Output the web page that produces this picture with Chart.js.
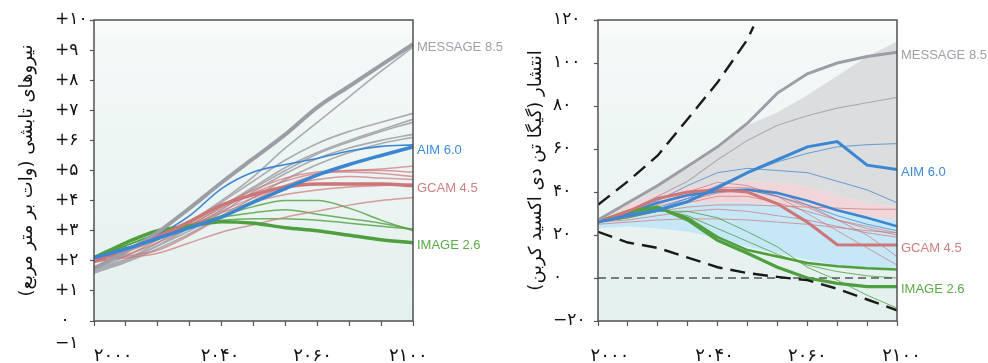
<!DOCTYPE html>
<html lang="fa">
<head>
<meta charset="UTF-8">
<title>نیروهای تابشی و انتشار</title>
<style>
  body { margin: 0; background: #fff; }
  canvas { position: absolute; top: 0; }
</style>
</head>
<body>
<canvas id="forcingChart" width="515" height="363" style="left:0"></canvas>
<canvas id="emissionChart" width="473" height="363" style="left:515px"></canvas>
<script src="https://cdn.jsdelivr.net/npm/chart.js"></script>
<script>
// ---- shared ----
const years = [2000, 2010, 2020, 2030, 2040, 2050, 2060, 2070, 2080, 2090, 2100];
const xTickLabels = ['۲۰۰۰', '۲۰۴۰', '۲۰۶۰', '۲۱۰۰'];
const scenarioNames = ['MESSAGE 8.5', 'AIM 6.0', 'GCAM 4.5', 'IMAGE 2.6'];

// ---- left: radiative forcing (W/m2) ----
const forcingTickValues = [0, 1, 2, 3, 4, 5, 6, 7, 8, 9, 10];
const forcingTickLabels = [' ۰', '+۱', '+۲', '+۳', '+۴', '+۵', '+۶', '+۷', '+۸', '+۹', '+۱۰'];
const forcingBelowLabel = '−۱';

const forcingMessage = [1.75, 2.3, 2.95, 3.75, 4.6, 5.4, 6.2, 7.1, 7.8, 8.5, 9.2];
const forcingGray1 = [1.7, 2.15, 2.7, 3.3, 4.0, 4.8, 5.75, 6.6, 7.45, 8.3, 9.1];
const forcingGray2 = [1.65, 2.05, 2.6, 3.25, 3.95, 4.65, 5.35, 5.9, 6.3, 6.6, 6.9];
const forcingGray3 = [1.6, 2.0, 2.5, 3.15, 3.8, 4.45, 5.1, 5.6, 6.0, 6.35, 6.7];
const forcingGray4 = [1.6, 2.0, 2.5, 3.1, 3.7, 4.4, 5.0, 5.55, 5.95, 6.3, 6.6];
const forcingGray5 = [1.7, 2.05, 2.5, 3.0, 3.6, 4.3, 4.9, 5.4, 5.75, 6.0, 6.2];
const forcingGray6 = [1.6, 1.95, 2.4, 2.9, 3.5, 4.1, 4.7, 5.2, 5.6, 5.9, 6.1];

const forcingAim = [2.1, 2.4, 2.75, 3.1, 3.45, 3.95, 4.4, 4.85, 5.2, 5.5, 5.78];
const forcingBlue1 = [2.1, 2.4, 2.85, 3.5, 4.4, 4.95, 5.2, 5.4, 5.65, 5.8, 5.85];

const forcingGcam = [2.0, 2.35, 2.8, 3.3, 3.85, 4.2, 4.45, 4.55, 4.55, 4.55, 4.5];
const forcingRed1 = [2.0, 2.35, 2.8, 3.3, 3.85, 4.35, 4.75, 4.95, 5.0, 5.05, 5.15];
const forcingRed2 = [2.0, 2.3, 2.75, 3.2, 3.75, 4.25, 4.65, 4.9, 4.95, 4.9, 4.8];
const forcingRed3 = [1.95, 2.2, 2.6, 3.1, 3.65, 4.1, 4.5, 4.7, 4.8, 4.75, 4.7];
const forcingRed4 = [1.95, 2.15, 2.35, 2.85, 3.45, 4.0, 4.5, 4.85, 5.0, 5.0, 4.95];
const forcingRed5 = [2.0, 2.1, 2.25, 2.6, 2.95, 3.2, 3.45, 3.65, 3.85, 4.0, 4.1];
const forcingRed6 = [2.0, 2.3, 2.7, 3.15, 3.6, 3.95, 4.2, 4.35, 4.45, 4.5, 4.55];

const forcingImage = [2.1, 2.6, 3.0, 3.15, 3.3, 3.25, 3.1, 3.0, 2.85, 2.7, 2.6];
const forcingGreen1 = [2.1, 2.5, 2.9, 3.2, 3.5, 3.8, 4.0, 4.0, 3.75, 3.35, 3.0];
const forcingGreen2 = [2.1, 2.5, 2.9, 3.2, 3.45, 3.6, 3.7, 3.55, 3.4, 3.25, 3.05];
const forcingGreen3 = [2.1, 2.5, 2.9, 3.2, 3.35, 3.4, 3.4, 3.35, 3.25, 3.15, 3.05];

// ---- right: CO2 emissions (Gt) ----
const emissionTickValues = [-20, 0, 20, 40, 60, 80, 100, 120];
const emissionTickLabels = ['−۲۰', '۰', '۲۰', '۴۰', '۶۰', '۸۰', '۱۰۰', '۱۲۰'];

const emissionMessage = [27, 35, 43, 52, 61, 72, 86, 95, 100, 103, 105];
const emissionGray1 = [27, 31, 38, 45, 55, 64, 71, 75.5, 79, 81.5, 84];

const emissionAim = [26, 29, 31.5, 35.5, 42, 49, 55, 61, 63.5, 52.5, 50.5];
const emissionBlueMid = [26, 30, 35, 38.5, 40.5, 41, 39.5, 36, 31.5, 28, 24];
const emissionBlue1 = [26, 29, 32, 37, 43, 49, 54, 58, 61, 62, 62.5];
const emissionBlue2 = [26, 30, 36, 43, 49, 51, 50, 49, 45, 41, 35];
const emissionBlue3 = [26, 29, 33, 37, 40, 41, 38, 34, 29, 25, 22];

const emissionGcam = [26, 31, 37, 40, 41, 40, 34.5, 26, 15.5, 15.3, 15.3];
const emissionRed1 = [26, 29, 34, 40, 44.5, 43, 38, 30, 22, 14, 6];
const emissionRed2 = [26, 28, 31, 33, 34, 34, 33.5, 33, 32.5, 32, 32];
const emissionRed3 = [26, 28, 31, 35, 38, 38, 35, 31, 27, 24, 21];
const emissionRed4 = [26, 27, 29, 31, 32, 31, 29, 27, 24, 21, 19];
const emissionRed5 = [26, 28, 32, 36, 39.5, 41, 38, 33, 27, 23, 20];
const emissionRed6 = [25, 26, 27, 27.5, 27.5, 27, 26, 25, 23.5, 22, 21];
const emissionRed7 = [26, 30, 35, 39, 42, 42, 40, 34, 27, 20, 10];

const emissionImage = [26, 31, 33, 27, 17.5, 11.5, 5, 0, -2.5, -4, -4];
const emissionGreenMid = [26, 31, 32.5, 28, 19, 13, 10, 7, 5.5, 4.5, 4];
const emissionGreen1 = [26, 28, 31, 31, 28, 21.5, 14.5, 5, -1, -8, -14];
const emissionGreen2 = [26, 30, 32, 29, 23, 17, 11, 6, 3, 1, 0];

const highPathYears = [2000, 2010, 2020, 2030, 2040, 2050, 2052];
const highPath = [34, 45, 57, 74, 91, 111, 117];
const lowPath = [21.5, 16.5, 14, 9.5, 5, 2.3, 0.5, -1, -5, -10, -15];
const zeroYears = [2000, 2100];
const zeroLine = [0, 0];

const bandGrayTop = [27, 34, 42.5, 51, 60, 71, 77, 85, 94, 103, 110];
const bandPinkTop = [27, 34, 39.5, 42.5, 44, 45, 44.5, 42.5, 38.5, 35, 33];
const bandBlueTop = [27, 31, 33, 34.5, 35, 35, 34, 32.5, 30.5, 28.5, 27];
const bandBlueLow = [23, 24, 23, 21.5, 18.5, 14.5, 11.5, 8.5, 6, 4.5, 3.5];

// ---- colours ----
const cGray = '#9c9da5', cGrayThin = '#aaabb1';
const cBlue = '#3b86d1', cBlueThin = 'rgba(59,134,209,0.75)';
const cRed = '#cd7577', cRedThin = 'rgba(205,117,119,0.7)';
const cGreen = '#4f9f3e', cGreenThin = 'rgba(79,159,62,0.8)';
const labelColors = ['#9fa0a8', '#3d8ad6', '#d27f82', '#5aab48'];

function series(values, color, width, order, xs, extra) {
    const xv = xs || years;
    return Object.assign({
        data: values.map((y, i) => ({ x: xv[i], y: y })),
        borderColor: color,
        borderWidth: width,
        pointRadius: 0,
        fill: false,
        order: order
    }, extra || {});
}

const panelPlugin = {
    id: 'panel',
    beforeDraw(chart) {
        const a = chart.chartArea, ctx = chart.ctx;
        const g = ctx.createLinearGradient(0, a.top, 0, a.bottom);
        g.addColorStop(0, '#fbfcfc');
        g.addColorStop(0.06, '#f4f9f8');
        g.addColorStop(1, '#e3f0ed');
        ctx.save();
        ctx.fillStyle = g;
        ctx.fillRect(a.left, a.top, a.right - a.left, a.bottom - a.top);
        ctx.restore();
    },
    afterDraw(chart, args, opts) {
        const a = chart.chartArea, ctx = chart.ctx;
        ctx.save();
        ctx.strokeStyle = '#505050';
        ctx.lineWidth = 1.5;
        ctx.strokeRect(a.left, a.top, a.right - a.left, a.bottom - a.top);
        ctx.font = '13px "Liberation Sans", Arial, sans-serif';
        ctx.textBaseline = 'middle';
        opts.items.forEach((it, i) => {
            ctx.fillStyle = labelColors[i];
            ctx.fillText(scenarioNames[i], a.right + 4, chart.scales.y.getPixelForValue(it) + 3);
        });
        ctx.restore();
    }
};

function panelOptions(p) {
    return {
        responsive: false,
        animation: false,
        layout: { padding: { top: 20, right: p.padRight, left: p.padLeft, bottom: 0 } },
        plugins: {
            legend: { display: false },
            tooltip: { enabled: false },
            panel: { items: p.labelValues }
        },
        elements: { line: p.lineStyle },
        scales: {
            x: {
                type: 'linear', min: 2000, max: 2100,
                afterFit: s => { s.height = 42; },
                afterBuildTicks: s => {
                    const t = years.map(v => ({ value: v }));
                    p.labelAt.forEach((v, i) => t.push({ value: v, text: xTickLabels[i] }));
                    s.ticks = t;
                },
                ticks: {
                    autoSkip: false, maxRotation: 0, padding: 20, color: '#111',
                    font: { family: 'DejaVu Sans', size: 18 },
                    callback: (v, i, t) => t[i].text || ''
                },
                grid: {
                    drawOnChartArea: false, tickLength: 5, tickWidth: 1.2,
                    tickColor: c => (c.tick && c.tick.text) ? 'rgba(0,0,0,0)' : '#555'
                },
                border: { display: false }
            },
            y: {
                min: p.yMin, max: p.yMax,
                afterFit: s => { s.width = p.axisWidth; },
                afterBuildTicks: s => {
                    const t = p.tickValues.map((v, i) => ({ value: v, text: p.tickLabels[i] }));
                    if (p.below) t.push({ value: p.below.at, text: p.below.text, below: true });
                    s.ticks = t;
                },
                ticks: {
                    autoSkip: false, crossAlign: 'far', color: '#111',
                    font: { family: 'DejaVu Sans', size: 17 },
                    callback: (v, i, t) => t[i].text
                },
                grid: {
                    drawOnChartArea: false, tickLength: 4, tickWidth: 1.2,
                    tickColor: c => (c.tick && c.tick.below) ? 'rgba(0,0,0,0)' : '#555'
                },
                border: { display: false },
                title: {
                    display: true, text: p.title, color: '#111',
                    font: { family: 'DejaVu Sans', size: 18 },
                    padding: { top: p.titlePad, bottom: 0 }
                }
            }
        }
    };
}

document.addEventListener('DOMContentLoaded', function () {
    new Chart(document.getElementById('forcingChart'), {
        type: 'line',
        data: {
            datasets: [
                series(forcingGray1, cGrayThin, 1.6, 5),
                series(forcingGray2, cGrayThin, 1.6, 5),
                series(forcingGray3, cGrayThin, 1.6, 5),
                series(forcingGray4, cGrayThin, 1.6, 5),
                series(forcingGray5, cGrayThin, 1.6, 5),
                series(forcingGray6, cGrayThin, 1.6, 5),
                series(forcingRed1, cRedThin, 1.5, 4),
                series(forcingRed2, cRedThin, 1.5, 4),
                series(forcingRed3, cRedThin, 1.5, 4),
                series(forcingRed4, cRedThin, 1.5, 4),
                series(forcingRed5, cRedThin, 1.5, 4),
                series(forcingRed6, cRedThin, 1.5, 4),
                series(forcingGreen1, cGreenThin, 1.5, 4),
                series(forcingGreen2, cGreenThin, 1.5, 4),
                series(forcingGreen3, cGreenThin, 1.5, 4),
                series(forcingBlue1, cBlue, 1.6, 3),
                series(forcingMessage, cGray, 4, 2),
                series(forcingGcam, cRed, 3.5, 2),
                series(forcingImage, cGreen, 3.5, 2),
                series(forcingAim, cBlue, 3.5, 1)
            ]
        },
        options: panelOptions({
            padLeft: 55, padRight: 102, axisWidth: 39, titlePad: -38,
            yMin: 0, yMax: 10,
            tickValues: forcingTickValues, tickLabels: forcingTickLabels,
            below: { at: -0.75, text: forcingBelowLabel },
            labelAt: [2006, 2039.5, 2068.5, 2098.5],
            title: 'نیروهای تابشی (وات بر متر مربع)',
            lineStyle: { cubicInterpolationMode: 'monotone' },
            labelValues: [forcingMessage[10], forcingAim[10], forcingGcam[10], forcingImage[10]]
        }),
        plugins: [panelPlugin]
    });

    new Chart(document.getElementById('emissionChart'), {
        type: 'line',
        data: {
            datasets: [
                series(bandGrayTop, 'rgba(0,0,0,0)', 0, 30, null, { fill: '+1', backgroundColor: '#dcdddf' }),
                series(bandPinkTop, 'rgba(0,0,0,0)', 0, 29, null, { fill: '+1', backgroundColor: '#f0d6d9' }),
                series(bandBlueTop, 'rgba(0,0,0,0)', 0, 28, null, { fill: '+1', backgroundColor: '#c6e7f6' }),
                series(bandBlueLow, 'rgba(0,0,0,0)', 0, 27),
                series(emissionGray1, cGrayThin, 1.1, 10),
                series(emissionRed1, cRedThin, 1, 10),
                series(emissionRed2, cRedThin, 1, 10),
                series(emissionRed3, cRedThin, 1, 10),
                series(emissionRed4, cRedThin, 1, 10),
                series(emissionRed5, cRedThin, 1, 10),
                series(emissionRed6, cRedThin, 1, 10),
                series(emissionRed7, cRedThin, 1, 10),
                series(emissionBlue1, cBlueThin, 1, 9),
                series(emissionBlue2, cBlueThin, 1, 9),
                series(emissionBlue3, cBlueThin, 1, 9),
                series(emissionGreen1, cGreenThin, 1, 9),
                series(emissionGreen2, cGreenThin, 1, 9),
                series(zeroLine, '#555', 1.5, 6, zeroYears, { borderDash: [8, 5] }),
                series(emissionGreenMid, cGreen, 2.5, 4),
                series(emissionBlueMid, cBlue, 2.5, 4),
                series(emissionGcam, cRed, 3, 3),
                series(emissionImage, cGreen, 3.2, 3),
                series(emissionMessage, cGray, 3, 2),
                series(emissionAim, cBlue, 3, 2),
                series(highPath, '#1a1a1a', 2.4, 1, highPathYears, { borderDash: [15, 8] }),
                series(lowPath, '#1a1a1a', 2.4, 1, null, { borderDash: [15, 8] })
            ]
        },
        options: panelOptions({
            padLeft: 38, padRight: 91, axisWidth: 45, titlePad: -27,
            yMin: -20, yMax: 120,
            tickValues: emissionTickValues, tickLabels: emissionTickLabels,
            below: null,
            labelAt: [2004, 2039, 2070, 2101.5],
            title: 'انتشار (گیگا تن دی اکسید کربن)',
            lineStyle: { tension: 0 },
            labelValues: [emissionMessage[10], emissionAim[10], emissionGcam[10], emissionImage[10]]
        }),
        plugins: [panelPlugin]
    });
});
</script>
</body>
</html>
